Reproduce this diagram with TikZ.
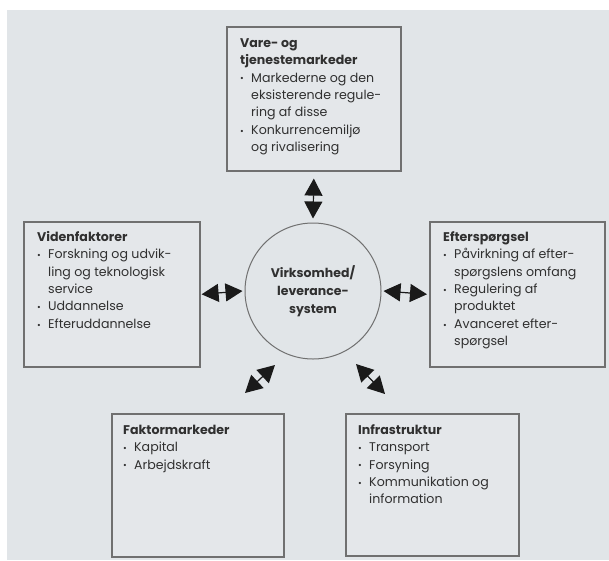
\documentclass[tikz,border=0pt]{standalone}
\usepackage{fontspec}
\setmainfont{Poppins}
\usetikzlibrary{arrows.meta,calc}
\definecolor{bgc}{HTML}{E1E5E8}
\definecolor{boxfill}{HTML}{E4E7EA}
\definecolor{framec}{HTML}{707070}
\definecolor{ink}{HTML}{303030}
\definecolor{arrc}{HTML}{1A1A1A}
\newcommand{\bul}{\raisebox{0.05ex}{\small\textbullet}}
\newcommand{\ttl}[1]{\multicolumn{2}{@{}l@{}}{\bfseries #1}}
\tikzset{
  panel/.style={draw=framec, line width=1.6pt, fill=boxfill, rectangle, inner sep=0pt, anchor=north west},
  paneltext/.style={anchor=north west, inner sep=0pt, text=ink, font=\fontsize{12.6}{17.4}\selectfont},
  dbl/.style={{Triangle[length=17pt,width=18pt]}-{Triangle[length=17pt,width=18pt]}, line width=1.2pt, draw=arrc, fill=arrc}
}
\begin{document}
\begin{tikzpicture}[x=1pt,y=1pt]
\useasboundingbox (0,0) rectangle (609,-560);
\fill[white] (0,0) rectangle (609,-560);
\fill[bgc] (7,-10) rectangle (609,-560);

% boxes
\node[panel, minimum width=174pt, minimum height=144pt] (vt) at (226,-26) {};
\node[panel, minimum width=176pt, minimum height=145pt] (vf) at (23,-221) {};
\node[panel, minimum width=175pt, minimum height=145pt] (ef) at (429,-221) {};
\node[panel, minimum width=172pt, minimum height=143pt] (fm) at (111,-413) {};
\node[panel, minimum width=173pt, minimum height=142pt] (ifr) at (345,-413) {};

% circle
\node[circle, draw=framec, line width=1pt, fill=bgc, minimum size=136pt, inner sep=0pt,
      align=center, text=ink, font=\bfseries\fontsize{12.5}{18}\selectfont] (c) at (313,-291)
      {Virksomhed/\\leverance-\\system};

% texts
\node[paneltext] (vtt) at ([shift={(14pt,-9pt)}]vt.north west) {%
\begin{tabular}{@{}p{11pt}@{}l@{}}
\ttl{Vare- og}\\
\ttl{tjenestemarkeder}\\
\bul & Markederne og den\\
 & eksisterende regule-\\
 & ring af disse\\
\bul & Konkurrencemiljø\\
 & og rivalisering
\end{tabular}};

\node[paneltext] (vft) at ([shift={(14pt,-8pt)}]vf.north west) {%
\begin{tabular}{@{}p{11pt}@{}l@{}}
\ttl{Videnfaktorer}\\
\bul & Forskning og udvik-\\
 & ling og teknologisk\\
 & service\\
\bul & Uddannelse\\
\bul & Efteruddannelse
\end{tabular}};

\node[paneltext] (eft) at ([shift={(14pt,-8pt)}]ef.north west) {%
\begin{tabular}{@{}p{11pt}@{}l@{}}
\ttl{Efterspørgsel}\\
\bul & Påvirkning af efter-\\
 & spørgslens omfang\\
\bul & Regulering af\\
 & produktet\\
\bul & Avanceret efter-\\
 & spørgsel
\end{tabular}};

\node[paneltext] (fmt) at ([shift={(12pt,-9pt)}]fm.north west) {%
\begin{tabular}{@{}p{11pt}@{}l@{}}
\ttl{Faktormarkeder}\\
\bul & Kapital\\
\bul & Arbejdskraft
\end{tabular}};

\node[paneltext] (ift) at ([shift={(13pt,-9pt)}]ifr.north west) {%
\begin{tabular}{@{}p{11pt}@{}l@{}}
\ttl{Infrastruktur}\\
\bul & Transport\\
\bul & Forsyning\\
\bul & Kommunikation og\\
 & information
\end{tabular}};

% arrows
\draw[dbl] ([yshift=-7pt]vt.south) -- ([yshift=4pt]c.north);
\draw[dbl] ([xshift=1pt]vf.east) -- ([xshift=-2pt]c.west);
\draw[dbl] ([xshift=2pt]c.east) -- ([xshift=-2pt]ef.west);
\coordinate (bl1) at ($(c.center)+(-38pt,-74pt)$);
\coordinate (bl2) at ($(c.center)+(-68pt,-102pt)$);
\coordinate (br1) at ($(c.center)+(43pt,-73pt)$);
\coordinate (br2) at ($(c.center)+(72pt,-103pt)$);
\draw[dbl] (bl1) -- (bl2);
\draw[dbl] (br1) -- (br2);
\end{tikzpicture}
\end{document}
